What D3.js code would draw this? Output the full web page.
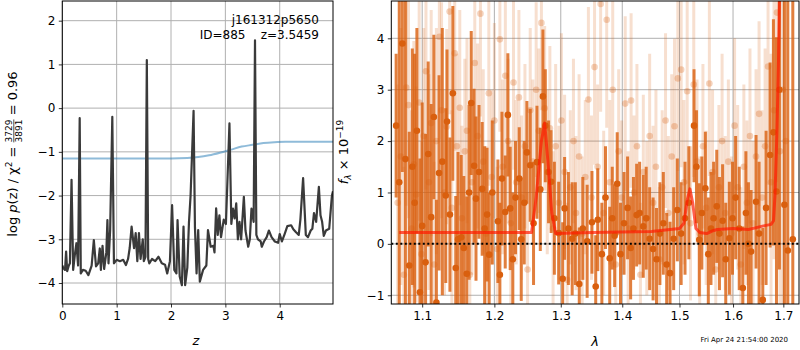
<!DOCTYPE html>
<html><head><meta charset="utf-8">
<script src="https://cdn.jsdelivr.net/npm/d3@7"></script>
<style>body{margin:0;background:#fff}svg{font-family:"DejaVu Sans",sans-serif}text{white-space:pre}</style>
</head><body>
<script>
// ---------- Left panel: redshift PDF ----------
const zGrid = [0.00,0.02,0.05,0.07,0.09,0.12,0.14,0.17,0.20,0.23,0.26,0.29,0.32,0.34,0.38,0.43,0.48,0.54,0.58,0.62,0.66,0.69,0.71,0.74,0.77,0.81,0.83,0.85,0.88,0.92,0.95,1.00,1.06,1.12,1.17,1.21,1.24,1.275,1.32,1.35,1.38,1.41,1.44,1.48,1.50,1.53,1.555,1.58,1.60,1.65,1.71,1.77,1.83,1.89,1.93,1.98,2.02,2.06,2.10,2.12,2.16,2.20,2.23,2.26,2.30,2.33,2.36,2.415,2.44,2.47,2.50,2.53,2.59,2.65,2.68,2.73,2.78,2.80,2.83,2.86,2.89,2.92,2.97,3.01,3.075,3.11,3.14,3.17,3.20,3.23,3.26,3.29,3.34,3.37,3.42,3.45,3.48,3.52,3.545,3.57,3.60,3.65,3.67,3.71,3.76,3.80,3.85,3.91,3.97,4.00,4.04,4.09,4.14,4.21,4.25,4.30,4.35,4.38,4.43,4.48,4.52,4.57,4.60,4.63,4.67,4.72,4.75,4.78,4.81,4.85,4.91,4.96,4.98];
const logP = [-3.6,-3.66,-3.7,-3.28,-3.73,-3.6,-3.55,-1.64,-3.7,-3.36,-3.09,-3.6,-0.23,-3.78,-3.7,-3.72,-3.82,-3.6,-3.02,-3.62,-3.55,-3.21,-3.7,-3.15,-3.68,-3.3,-2.56,-3.55,-2.79,-0.2,-3.55,-3.47,-3.5,-3.47,-3.59,-3.45,-3.2,-2.71,-3.2,-2.86,-3.5,-2.86,-3.45,-3.0,-3.5,-3.4,1.1,-3.45,-3.55,-3.45,-3.5,-3.4,-3.55,-3.58,-3.78,-3.5,-2.22,-3.7,-3.78,-2.56,-3.85,-4.05,-2.71,-4.05,-3.65,-2.62,-2.0,-0.06,-2.71,-3.78,-2.79,-3.97,-3.7,-3.6,-2.79,-3.17,-3.15,-3.3,-2.29,-2.9,-2.45,-2.95,-2.55,-2.65,-0.35,-2.65,-2.3,-2.52,-2.18,-3.0,-2.6,-3.0,-2.03,-2.8,-3.17,-3.0,-2.3,-2.6,1.55,-2.9,-3.0,-3.05,-3.17,-3.05,-2.95,-2.8,-2.95,-3.05,-3.08,-2.88,-3.05,-2.88,-2.7,-2.68,-2.77,-2.84,-2.9,-2.55,-1.6,-2.9,-2.95,-2.8,-2.76,-2.4,-2.6,-1.8,-2.45,-2.6,-2.92,-2.8,-2.76,-2.0,-1.9];
const zCum = [0,1.0,2.0,2.3,2.5,2.7,2.9,3.1,3.3,3.5,3.7,3.9,4.1,4.5,4.98];
const cumVal = [-1.15,-1.15,-1.15,-1.14,-1.12,-1.08,-1.02,-0.95,-0.88,-0.84,-0.8,-0.78,-0.77,-0.77,-0.77];
const leftXTicks = [0,1,2,3,4];
const leftYTicks = [-4,-3,-2,-1,0,1,2];

// ---------- Right panel: spectrum ----------
// [lambda (um), flux (1e-19), error]
const specDark = [
[1.066,2.3,1.4],[1.070,1.2,3.6],[1.074,3.9,2.5],[1.078,1.65,3.2],[1.083,-0.42,2.6],[1.087,1.5,2.3],[1.090,0.8,2.9],[1.093,2.2,2.0],[1.097,-0.94,2.6],[1.100,0.35,2.4],
[1.1045,-0.36,2.5],[1.108,1.75,1.8],[1.112,0.52,2.2],[1.1156,2.47,1.6],[1.119,-1.14,2.0],[1.1226,1.38,1.9],[1.127,1.6,2.6],[1.1317,0.94,1.7],[1.1334,2.38,1.4],[1.1374,0.57,1.5],
[1.1414,2.93,1.7],[1.1454,-0.47,1.4],[1.1486,0.09,1.7],[1.153,0.13,1.6],[1.1566,-0.08,1.4],[1.1607,-0.58,1.5],[1.164,1.0,1.7],[1.167,2.74,1.4],[1.171,1.52,1.5],[1.1737,0.88,1.6],
[1.178,1.40,1.3],[1.1825,1.07,1.3],[1.186,0.3,1.6],[1.1895,0.57,1.3],[1.1925,-0.21,1.2],[1.197,1.0,1.4],[1.2051,0.44,1.2],[1.208,-0.6,1.4],[1.211,1.27,1.3],[1.2158,0.62,1.1],
[1.2197,2.51,1.2],[1.2231,0.69,1.2],[1.227,-0.3,1.3],[1.231,0.9,1.1],[1.2365,1.27,1.0],[1.2395,0.09,1.2],[1.244,0.8,1.2],[1.248,1.78,1.0],[1.253,1.53,1.1],[1.258,0.4,1.2],
[1.2632,1.59,1.1],[1.2683,1.06,1.2],[1.2723,2.87,1.3],[1.276,2.3,1.1],[1.281,1.4,1.0],[1.285,1.21,1.0],[1.290,0.5,1.1],[1.2967,0.21,1.0],[1.303,-0.68,1.1],[1.306,0.69,1.0],
[1.312,0.3,1.1],[1.318,0.1,1.1],[1.323,0.2,1.0],[1.3293,-0.78,1.1],[1.335,0.3,1.0],[1.342,0.05,1.1],[1.3498,0.42,1.0],[1.3559,-0.83,1.0],[1.3593,0.47,1.0],[1.366,-0.2,1.0],
[1.372,0.9,1.0],[1.379,-0.28,1.0],[1.3832,0.5,1.0],[1.3872,0.16,1.0],[1.3915,1.17,1.0],[1.397,-0.2,1.0],[1.403,0.4,1.0],[1.409,0.7,1.0],[1.4142,-0.08,1.0],[1.419,0.3,1.0],
[1.4245,0.56,1.0],[1.4296,0.6,1.0],[1.4359,0.34,1.0],[1.441,0.5,1.0],[1.447,0.1,1.0],[1.453,-0.1,1.0],[1.459,-0.3,1.0],[1.465,0.2,1.0],[1.471,0.4,1.0],[1.477,-0.4,1.0],
[1.483,-0.57,1.0],[1.4895,0.1,1.0],[1.4961,0.66,1.0],[1.503,0.2,1.0],[1.510,0.5,1.1],[1.517,0.8,1.1],[1.5265,2.3,1.1],[1.531,1.5,1.1],[1.5362,0.08,1.1],[1.541,0.6,1.1],
[1.5475,1.08,1.1],[1.553,-0.2,1.1],[1.558,0.3,1.1],[1.563,0.5,1.1],[1.5689,0.73,1.1],[1.574,0.2,1.1],[1.580,0.45,1.1],[1.586,-0.3,1.1],[1.5929,0.11,1.1],[1.599,0.5,1.1],
[1.605,0.9,1.2],[1.612,0.3,1.2],[1.619,-0.86,1.2],[1.625,0.6,1.2],[1.630,0.0,1.2],[1.6352,-0.15,1.2],[1.645,0.82,1.3],[1.651,0.2,1.4],[1.6584,-1.09,1.4],[1.665,0.7,1.5],
[1.6731,1.73,1.8],[1.6798,2.17,2.2],[1.686,1.02,3.0],[1.692,3.0,3.5],[1.7022,0.76,4.0],[1.7092,-0.13,5.0],[1.7195,0.09,6.0]];
const specLight = [
[1.068,0.8,2.3],[1.072,1.7,2.5],[1.076,-0.6,2.1],[1.079,3.04,2.3],[1.082,2.7,2.2],[1.086,0.3,2.3],[1.089,1.55,2.4],[1.092,0.96,2.1],[1.096,2.75,2.3],[1.099,-0.2,2.2],
[1.102,2.1,2.1],[1.105,3.36,2.3],[1.109,1.2,2.1],[1.112,2.35,2.2],[1.116,-0.4,2.0],[1.119,2.0,2.2],[1.123,4.03,2.0],[1.126,2.6,2.1],[1.130,1.0,2.0],[1.133,2.28,1.9],
[1.137,4.52,2.0],[1.140,0.7,1.9],[1.144,3.71,1.9],[1.147,1.9,1.8],[1.151,2.65,1.9],[1.154,0.5,1.8],[1.158,1.8,1.8],[1.161,2.2,1.8],[1.165,-0.6,1.7],[1.168,1.2,1.8],
[1.172,3.52,1.9],[1.176,2.1,1.8],[1.180,4.48,2.0],[1.184,1.6,1.8],[1.188,0.2,1.7],[1.192,2.93,1.8],[1.196,1.3,1.7],[1.200,2.4,1.9],[1.204,-0.1,1.6],[1.208,3.98,1.8],
[1.212,1.5,1.7],[1.216,3.27,1.8],[1.220,2.0,1.6],[1.224,0.4,1.6],[1.228,3.14,1.7],[1.232,1.2,1.6],[1.236,2.85,1.7],[1.240,0.9,1.6],[1.245,1.9,1.6],[1.249,-0.5,1.5],
[1.253,2.6,1.6],[1.257,1.6,1.6],[1.262,3.0,1.7],[1.266,2.2,1.6],[1.270,4.3,1.7],[1.275,2.64,1.6],[1.279,1.4,1.6],[1.283,2.25,1.6],[1.288,0.3,1.5],[1.292,1.9,1.6],
[1.297,0.8,1.5],[1.301,2.4,1.7],[1.306,1.4,1.5],[1.310,-0.7,1.5],[1.315,1.1,1.5],[1.320,2.0,1.6],[1.324,0.6,1.5],[1.329,1.7,1.6],[1.334,0.2,1.5],[1.339,1.3,1.5],
[1.344,2.81,1.8],[1.349,0.9,1.6],[1.354,3.44,1.9],[1.359,1.5,1.6],[1.364,4.67,2.1],[1.369,0.6,1.6],[1.374,4.36,2.1],[1.379,1.2,1.6],[1.384,3.0,1.8],[1.389,-0.4,1.5],
[1.394,1.8,1.6],[1.399,0.9,1.5],[1.405,2.73,1.7],[1.410,0.3,1.5],[1.415,2.79,1.7],[1.420,1.0,1.5],[1.425,1.9,1.6],[1.431,-0.6,1.4],[1.436,1.4,1.5],[1.442,0.5,1.5],
[1.447,2.1,1.6],[1.453,0.8,1.5],[1.458,1.5,1.5],[1.464,-0.3,1.4],[1.469,1.1,1.5],[1.475,2.4,1.7],[1.480,0.6,1.5],[1.486,1.7,1.6],[1.491,2.29,1.7],[1.497,3.22,1.8],
[1.503,3.39,1.9],[1.508,1.2,1.6],[1.514,2.97,1.8],[1.520,0.4,1.5],[1.526,3.1,1.8],[1.532,1.6,1.6],[1.537,0.2,1.5],[1.543,1.9,1.6],[1.549,0.7,1.5],[1.555,3.12,1.8],
[1.561,1.4,1.6],[1.567,-0.5,1.5],[1.573,1.1,1.6],[1.579,2.0,1.7],[1.585,0.6,1.5],[1.591,1.6,1.6],[1.597,0.2,1.5],[1.603,2.3,1.7],[1.609,1.1,1.6],[1.615,-0.4,1.5],
[1.621,1.5,1.6],[1.627,0.8,1.6],[1.633,2.1,1.7],[1.639,0.4,1.6],[1.645,1.7,1.7],[1.651,2.53,1.8],[1.657,0.9,1.7],[1.663,1.9,1.9],[1.669,3.45,2.3],[1.675,1.2,2.5],
[1.681,2.6,2.9],[1.687,4.5,3.3],[1.693,1.8,3.8],[1.699,3.0,4.3],[1.705,2.0,4.8]];
const modelLam = [1.070,1.150,1.200,1.255,1.262,1.270,1.275,1.280,1.286,1.292,1.350,1.450,1.500,1.508,1.514,1.519,1.524,1.530,1.537,1.550,1.560,1.570,1.600,1.630,1.660,1.675,1.680,1.683,1.687,1.690,1.693,1.696,1.700];
const modelFlux = [0.22,0.22,0.22,0.22,0.9,2.0,2.35,1.6,0.6,0.2,0.22,0.24,0.3,0.4,0.85,1.07,0.8,0.3,0.22,0.2,0.25,0.28,0.3,0.28,0.35,0.38,0.45,0.95,2.2,3.5,5.5,8.0,9.0];
const rightXTicks = [1.1,1.2,1.3,1.4,1.5,1.6,1.7];
const rightYTicks = [-1,0,1,2,3,4];

const W = 800, H = 350;
const svg = d3.select("body").append("svg").attr("width",W).attr("height",H);
const gridC = "#b0b0b0";
const fs = 12;

const L = {x0:62.3, x1:333, y0:1, y1:304};
const xz = d3.scaleLinear().domain([0,4.98]).range([L.x0,L.x1]);
const yp = d3.scaleLinear().domain([-4.48,2.45]).range([L.y1,L.y0]);
const R = {x0:391.3, x1:799, y0:1, y1:304};
const xl = d3.scaleLog().domain([1.0598,1.7324]).range([R.x0,R.x1]);
const yf = d3.scaleLinear().domain([-1.17,4.726]).range([R.y1,R.y0]);

function gridLines(box, xs, ys, xt, yt){
  const g = svg.append("g");
  g.selectAll(".gx").data(xt).join("line").attr("x1",d=>xs(d)).attr("x2",d=>xs(d))
    .attr("y1",box.y0).attr("y2",box.y1).attr("stroke",gridC).attr("stroke-width",1);
  g.selectAll(".gy").data(yt).join("line").attr("y1",d=>ys(d)).attr("y2",d=>ys(d))
    .attr("x1",box.x0).attr("x2",box.x1).attr("stroke",gridC).attr("stroke-width",1);
}
function frame(box, xs, ys, xt, yt, xfmt, yfmt){
  const ax = svg.append("g").attr("transform",`translate(0,${box.y1})`)
    .call(d3.axisBottom(xs).tickValues(xt).tickFormat(xfmt).tickSize(3.5).tickPadding(3.5));
  const ay = svg.append("g").attr("transform",`translate(${box.x0},0)`)
    .call(d3.axisLeft(ys).tickValues(yt).tickFormat(yfmt).tickSize(3.5).tickPadding(3.5));
  [ax,ay].forEach(a=>{a.select(".domain").remove();
    a.selectAll("text").attr("font-size",fs).attr("font-family","DejaVu Sans").attr("fill","#000");
    a.selectAll("line").attr("stroke","#000").attr("stroke-width",0.8);});
  svg.append("rect").attr("x",box.x0).attr("y",box.y0).attr("width",box.x1-box.x0).attr("height",box.y1-box.y0)
    .attr("fill","none").attr("stroke","#000").attr("stroke-width",1);
}
const minusFmt = d => (d<0?"\u2212":"")+Math.abs(d);

const defs = svg.append("defs");
defs.append("clipPath").attr("id","clipL").append("rect").attr("x",L.x0).attr("y",L.y0).attr("width",L.x1-L.x0).attr("height",L.y1-L.y0);
defs.append("clipPath").attr("id","clipR").append("rect").attr("x",R.x0).attr("y",R.y0).attr("width",R.x1-R.x0).attr("height",R.y1-R.y0);

// ---- Left panel
gridLines(L,xz,yp,leftXTicks,leftYTicks);
const gl = svg.append("g").attr("clip-path","url(#clipL)");
gl.append("path").datum(zCum.map((z,i)=>[z,cumVal[i]]))
  .attr("d",d3.line().x(d=>xz(d[0])).y(d=>yp(d[1])).curve(d3.curveMonotoneX))
  .attr("fill","none").attr("stroke","#1f77b4").attr("stroke-opacity",0.5).attr("stroke-width",2);
gl.append("path").datum(zGrid.map((z,i)=>[z,logP[i]]))
  .attr("d",d3.line().x(d=>xz(d[0])).y(d=>yp(d[1])))
  .attr("fill","none").attr("stroke","#3a3a3a").attr("stroke-width",2.2).attr("stroke-linejoin","round");
frame(L,xz,yp,leftXTicks,leftYTicks,d=>d,minusFmt);

svg.append("text").attr("x",319).attr("y",24).attr("text-anchor","end").attr("font-size",fs).text("j161312p5650");
svg.append("text").attr("x",319).attr("y",39).attr("text-anchor","end").attr("font-size",fs).text("ID=885    z=3.5459");

svg.append("text").attr("x",196).attr("y",345).attr("text-anchor","middle").attr("font-size",13)
  .attr("font-style","italic").text("z");

{
  const g = svg.append("g");
  const t1 = g.append("text").attr("x",0).attr("y",0).attr("font-size",13);
  t1.append("tspan").text("log ");
  t1.append("tspan").attr("font-style","italic").text("p");
  t1.append("tspan").text("(z) / \u03C7");
  t1.append("tspan").attr("font-size",9).attr("dy",-5).text("2");
  t1.append("tspan").attr("dy",5).text(" = ");
  const w1 = t1.node().getComputedTextLength();
  const num = g.append("text").attr("x",w1).attr("y",-5).attr("font-size",9).text("3729");
  const den = g.append("text").attr("x",w1).attr("y",5).attr("font-size",9).text("3891");
  const wf = Math.max(num.node().getComputedTextLength(), den.node().getComputedTextLength());
  g.append("line").attr("x1",w1).attr("x2",w1+wf).attr("y1",-3.2).attr("y2",-3.2).attr("stroke","#000").attr("stroke-width",0.7);
  const t3 = g.append("text").attr("x",w1+wf).attr("y",0).attr("font-size",13).text(" = 0.96");
  const tot = w1+wf+t3.node().getComputedTextLength();
  g.attr("transform",`translate(17,${154+tot/2}) rotate(-90)`);
}

// ---- Right panel
gridLines(R,xl,yf,rightXTicks,rightYTicks);
const gr = svg.append("g").attr("clip-path","url(#clipR)");
const orange = "#d95f0e";
gr.selectAll(".lb").data(specLight).join("line")
  .attr("x1",d=>xl(d[0])).attr("x2",d=>xl(d[0])).attr("y1",d=>yf(d[1]-d[2])).attr("y2",d=>yf(d[1]+d[2]))
  .attr("stroke",orange).attr("stroke-opacity",0.2).attr("stroke-width",3);
gr.selectAll(".lp").data(specLight).join("circle")
  .attr("cx",d=>xl(d[0])).attr("cy",d=>yf(d[1])).attr("r",3.3).attr("fill",orange).attr("fill-opacity",0.28);
gr.selectAll(".db").data(specDark).join("line")
  .attr("x1",d=>xl(d[0])).attr("x2",d=>xl(d[0])).attr("y1",d=>yf(d[1]-d[2])).attr("y2",d=>yf(d[1]+d[2]))
  .attr("stroke",orange).attr("stroke-opacity",0.8).attr("stroke-width",3);
gr.selectAll(".dp").data(specDark).join("circle")
  .attr("cx",d=>xl(d[0])).attr("cy",d=>yf(d[1])).attr("r",3.3).attr("fill",orange);
gr.append("path").datum(modelLam.map((l,i)=>[l,modelFlux[i]]))
  .attr("d",d3.line().x(d=>xl(d[0])).y(d=>yf(d[1])))
  .attr("fill","none").attr("stroke","#ff1a00").attr("stroke-opacity",0.7).attr("stroke-width",3).attr("stroke-linejoin","round");
gr.append("line").attr("x1",R.x0).attr("x2",R.x1).attr("y1",yf(0)).attr("y2",yf(0))
  .attr("stroke","#000").attr("stroke-width",2).attr("stroke-dasharray","2,2.5");
frame(R,xl,yf,rightXTicks,rightYTicks,d3.format(".1f"),minusFmt);

svg.append("text").attr("x",595).attr("y",346).attr("text-anchor","middle").attr("font-size",13)
  .attr("font-style","italic").text("\u03BB");

{
  const t = svg.append("text").attr("font-size",13).attr("text-anchor","middle")
    .attr("transform","translate(348,152) rotate(-90)");
  t.append("tspan").attr("font-style","italic").text("f");
  t.append("tspan").attr("font-size",9).attr("dy",3).attr("font-style","italic").text("\u03BB");
  t.append("tspan").attr("dy",-3).text(" \u00D7 10");
  t.append("tspan").attr("font-size",9).attr("dy",-5).text("\u221219");
}

svg.append("text").attr("x",788).attr("y",342).attr("text-anchor","end").attr("font-size",7).text("Fri Apr 24 21:54:00 2020");
</script>
</body></html>
